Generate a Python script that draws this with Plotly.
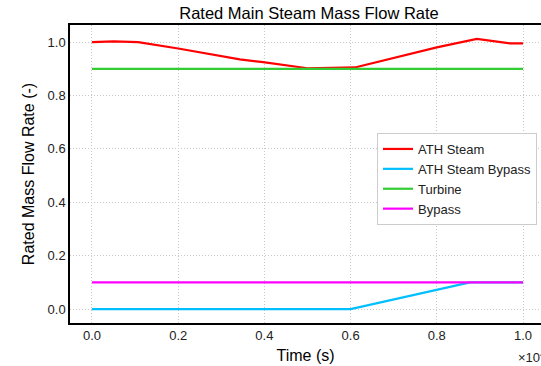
import plotly.graph_objects as go

# Time in units of the axis (scaled, x 10^n)
t_ath = [0.0, 0.05, 0.107, 0.2, 0.343, 0.397, 0.5, 0.61, 0.80, 0.893, 0.97, 1.0]
ath_steam = [1.0, 1.003, 1.0, 0.976, 0.935, 0.925, 0.902, 0.905, 0.980, 1.012, 0.995, 0.995]

t_byp = [0.0, 0.6, 0.877, 1.0]
ath_bypass = [0.0, 0.0, 0.1, 0.1]

t_const = [0.0, 1.0]
turbine = [0.9, 0.9]
bypass = [0.1, 0.1]

W, H = 541, 366
L, T, B = 70, 25, 43
R = 0
x_left = -0.051
x_right = (541 - 92) / 431.0

fig = go.Figure()
fig.add_trace(go.Scatter(x=t_ath, y=ath_steam, mode="lines", name="ATH Steam",
                         line=dict(color="#ff0000", width=2.2)))
fig.add_trace(go.Scatter(x=t_byp, y=ath_bypass, mode="lines", name="ATH Steam Bypass",
                         line=dict(color="#00bfff", width=2.2)))
fig.add_trace(go.Scatter(x=t_const, y=turbine, mode="lines", name="Turbine",
                         line=dict(color="#32cd32", width=2.2)))
fig.add_trace(go.Scatter(x=t_const, y=bypass, mode="lines", name="Bypass",
                         line=dict(color="#ff00ff", width=2.2)))

font = "Liberation Sans, Arial, sans-serif"
fig.update_layout(
    width=W, height=H,
    margin=dict(l=L, r=R, t=T, b=B),
    paper_bgcolor="white", plot_bgcolor="white",
    font=dict(family=font, size=13, color="#222222"),
    title=dict(text="Rated Main Steam Mass Flow Rate", x=309 / W, xanchor="center",
               y=1 - 13 / H, yanchor="middle", font=dict(size=16.5, color="black")),
    showlegend=True,
    legend=dict(x=0.9915, xanchor="right", y=0.6376, yanchor="top",
                bgcolor="white", bordercolor="#cccccc", borderwidth=1,
                font=dict(size=13, color="#222222"), tracegroupgap=0,
                itemwidth=30),
    xaxis=dict(range=[x_left, x_right], tickvals=[0, 0.2, 0.4, 0.6, 0.8, 1.0],
               tickformat=".1f", showgrid=True, gridcolor="#c8c8c8", griddash="1px,2px",
               gridwidth=1, showline=True, linecolor="black", linewidth=1.5,
               mirror=True, ticks="", zeroline=False,
               title=dict(text="Time (s)", font=dict(size=16, color="black"), standoff=7)),
    yaxis=dict(range=[-0.052, 1.064], tickvals=[0, 0.2, 0.4, 0.6, 0.8, 1.0],
               tickformat=".1f", showgrid=True, gridcolor="#c8c8c8", griddash="1px,2px",
               gridwidth=1, showline=True, linecolor="black", linewidth=1.5,
               mirror=False, ticks="", zeroline=False,
               title=dict(text="Rated Mass Flow Rate (-)", font=dict(size=16, color="black"), standoff=9)),
)

fig.add_annotation(text="×10<sup>4</sup>", xref="paper", yref="paper",
                   x=(516 - L) / (W - L - R), xanchor="left",
                   y=-(357 - (H - B)) / (H - T - B), yanchor="middle",
                   showarrow=False, font=dict(size=13, color="#222222"))

fig.write_html("out.html", config={"displayModeBar": False},
               post_script="document.body.style.margin='0px';document.body.style.overflow='hidden';")
